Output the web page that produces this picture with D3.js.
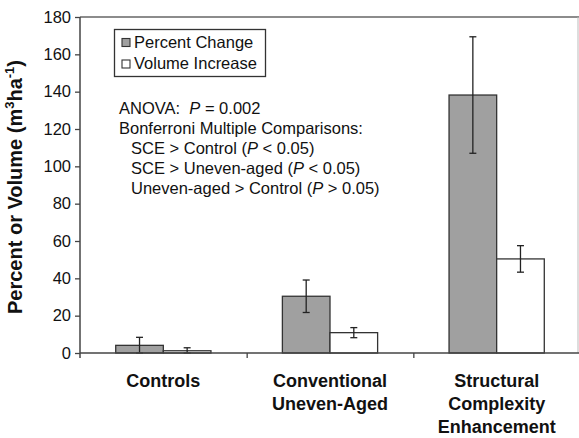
<!DOCTYPE html>
<html>
<head>
<meta charset="utf-8">
<script src="https://cdn.jsdelivr.net/npm/d3@7"></script>
<style>
  html, body { margin: 0; padding: 0; background: #fff; }
  svg { display: block; font-family: "Liberation Sans", Arial, sans-serif; }
</style>
</head>
<body>
<svg id="chart" width="579" height="438"></svg>
<script>
// ---- data ----
const categories = [["Controls"], ["Conventional", "Uneven-Aged"], ["Structural", "Complexity", "Enhancement"]];
const seriesNames = ["Percent Change", "Volume Increase"];
const percentChange = [4.1, 30.4, 138.2];
const percentErr = [4.3, 8.7, 31.2];
const volumeIncrease = [1.2, 10.9, 50.4];
const volumeErr = [1.6, 2.7, 7.1];
const yTicks = [0, 20, 40, 60, 80, 100, 120, 140, 160, 180];
const seriesColors = ["#a0a0a0", "#ffffff"];

const svg = d3.select("#chart");
const m = { left: 80, right: 580, top: 17, bottom: 353 };

const catKeys = categories.map((c, i) => i);
const x = d3.scaleBand().domain(catKeys).range([m.left, m.right]).paddingInner(0).paddingOuter(0);
const y = d3.scaleLinear().domain([0, 180]).range([m.bottom, m.top]);
const bw = x.bandwidth() / 3.5;
const xs = d3.scaleBand().domain([0, 1]).range([0.75 * bw, 2.75 * bw]).padding(0);

const axisColor = "#444";

// plot frame (top and right)
svg.append("line").attr("x1", m.left).attr("x2", m.right).attr("y1", m.top).attr("y2", m.top)
  .attr("stroke", "#666").attr("stroke-width", 1.5);
svg.append("line").attr("x1", m.right - 2).attr("x2", m.right - 2).attr("y1", m.top).attr("y2", m.bottom)
  .attr("stroke", "#bbb").attr("stroke-width", 1);

// bars
const data = [percentChange, volumeIncrease];
const errs = [percentErr, volumeErr];
data.forEach((vals, s) => {
  const g = svg.append("g");
  vals.forEach((v, i) => {
    const bx = x(i) + xs(s);
    g.append("rect")
      .attr("x", bx).attr("y", y(v))
      .attr("width", xs.bandwidth()).attr("height", y(0) - y(v))
      .attr("fill", seriesColors[s]).attr("stroke", "#333").attr("stroke-width", 1.3);
  });
});
// error bars
data.forEach((vals, s) => {
  const g = svg.append("g").attr("stroke", "#222").attr("stroke-width", 1.3);
  vals.forEach((v, i) => {
    const cx = x(i) + xs(s) + xs.bandwidth() / 2;
    const hi = y(v + errs[s][i]);
    const lo = y(Math.max(0, v - errs[s][i]));
    g.append("line").attr("x1", cx).attr("x2", cx).attr("y1", hi).attr("y2", lo);
    g.append("line").attr("x1", cx - 3.5).attr("x2", cx + 3.5).attr("y1", hi).attr("y2", hi);
    g.append("line").attr("x1", cx - 3.5).attr("x2", cx + 3.5).attr("y1", lo).attr("y2", lo);
  });
});

// y axis
const yAxis = d3.axisLeft(y).tickValues(yTicks).tickSize(5).tickPadding(4);
const yg = svg.append("g").attr("transform", `translate(${m.left},0)`).call(yAxis);
yg.select(".domain").attr("stroke", axisColor).attr("stroke-width", 1.5).attr("d", `M0,${m.top}V${m.bottom + 5}`);
yg.selectAll(".tick line").attr("stroke", axisColor).attr("stroke-width", 1.3);
yg.selectAll(".tick text").attr("font-size", 16.5).attr("fill", "#111")
  .attr("font-family", "Liberation Sans, Arial, sans-serif");

// x axis
const xAxis = d3.axisBottom(d3.scaleLinear().domain([0, 3]).range([m.left, m.right]))
  .tickValues([1, 2]).tickSize(5).tickFormat("");
const xg = svg.append("g").attr("transform", `translate(0,${m.bottom})`).call(xAxis);
xg.select(".domain").attr("stroke", axisColor).attr("stroke-width", 1.5).attr("d", `M${m.left},0H${m.right}`);
xg.selectAll(".tick line").attr("stroke", axisColor).attr("stroke-width", 1.3);

// category labels
categories.forEach((lines, i) => {
  const t = svg.append("text").attr("text-anchor", "middle")
    .attr("font-size", 18).attr("font-weight", "bold").attr("fill", "#111");
  lines.forEach((ln, k) => {
    t.append("tspan").attr("x", x(i) + x.bandwidth() / 2).attr("y", 387 + k * 23).text(ln);
  });
});

// y axis title
const yt = svg.append("text").attr("transform", `translate(22,187) rotate(-90)`)
  .attr("text-anchor", "middle").attr("font-size", 20).attr("font-weight", "bold").attr("fill", "#111");
yt.append("tspan").text("Percent or Volume (m");
yt.append("tspan").attr("dy", -8).attr("font-size", 13).text("3");
yt.append("tspan").attr("dy", 8).text("ha");
yt.append("tspan").attr("dy", -8).attr("font-size", 13).text("-1");
yt.append("tspan").attr("dy", 8).text(")");

// legend
const lg = svg.append("g");
lg.append("rect").attr("x", 114.5).attr("y", 29.5).attr("width", 151).attr("height", 47)
  .attr("fill", "#fff").attr("stroke", "#333").attr("stroke-width", 1.3);
seriesNames.forEach((name, i) => {
  const yy = 47.5 + i * 21.5;
  lg.append("rect").attr("x", 122).attr("y", yy - 9).attr("width", 8).attr("height", 8)
    .attr("fill", seriesColors[i]).attr("stroke", "#333").attr("stroke-width", 1.1);
  lg.append("text").attr("x", 134).attr("y", yy).attr("font-size", 16.5).attr("fill", "#111").text(name);
});

// annotation
const notes = [
  { x: 119, parts: [["ANOVA:\u00a0\u00a0", false], ["P", true], [" = 0.002", false]] },
  { x: 119, parts: [["Bonferroni Multiple Comparisons:", false]] },
  { x: 131, parts: [["SCE > Control (", false], ["P", true], [" < 0.05)", false]] },
  { x: 131, parts: [["SCE > Uneven-aged (", false], ["P", true], [" < 0.05)", false]] },
  { x: 131, parts: [["Uneven-aged > Control (", false], ["P", true], [" > 0.05)", false]] }
];
notes.forEach((n, k) => {
  const t = svg.append("text").attr("x", n.x).attr("y", 113.5 + k * 20)
    .attr("font-size", 16.5).attr("fill", "#111");
  n.parts.forEach(([s, it]) => {
    t.append("tspan").attr("font-style", it ? "italic" : "normal").text(s);
  });
});
</script>
</body>
</html>
